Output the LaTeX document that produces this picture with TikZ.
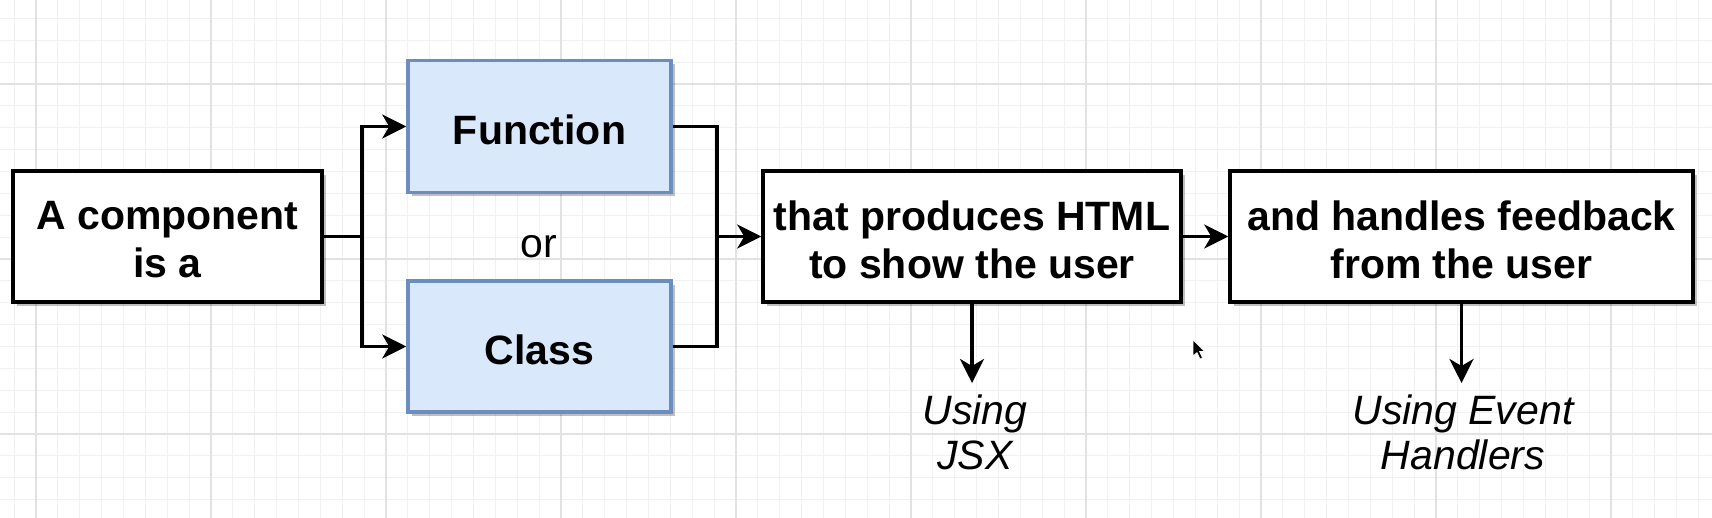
\documentclass[tikz,border=0pt]{standalone}
\usepackage{fontspec}
\setmainfont{Liberation Sans}
\usetikzlibrary{arrows.meta,shadows}
\definecolor{bluefill}{HTML}{DAE8FC}
\definecolor{blueline}{HTML}{6C8EBF}
\definecolor{gridminor}{HTML}{F1F1F1}
\definecolor{gridmajor}{HTML}{E2E2E2}
\tikzset{
  box/.style={draw=black, line width=3.5pt, fill=white, rectangle, inner sep=0pt,
    drop shadow={shadow xshift=4pt, shadow yshift=-4pt, fill=black, opacity=0.25}},
  bluebox/.style={box, draw=blueline, fill=bluefill},
  boxtext/.style={align=center, inner sep=0pt, font=\fontsize{41}{48}\selectfont\bfseries},
  conn/.style={draw=black, line width=3.5pt},
  arr/.style={conn, -{Stealth[length=24pt,width=24pt,inset=7pt]}},
  note/.style={align=center, inner sep=0pt, font=\fontsize{41}{45}\selectfont\itshape},
  gminor/.style={draw=gridminor, line width=1pt},
  gmajor/.style={draw=gridmajor, line width=1.2pt}
}
\begin{document}
\begin{tikzpicture}[x=1pt,y=-1pt]
\useasboundingbox (0,0) rectangle (1712,518);
\fill[white] (0,0) rectangle (1712,518);
% grid
\foreach \i in {0,...,78} \draw[gminor] ({14.1+\i*21.875},0) -- ++(0,518);
\foreach \j in {0,...,23} \draw[gminor] (0,{18.4+\j*21.875}) -- ++(1712,0);
\foreach \i in {0,...,9} \draw[gmajor] ({36+\i*175},0) -- ++(0,518);
\foreach \j in {0,...,2} \draw[gmajor] (0,{84+\j*175}) -- ++(1712,0);

% boxes
\node[box, minimum width=309pt, minimum height=131pt] (A) at (167.5,236.5) {};
\node[bluebox, minimum width=263pt, minimum height=132pt] (F) at (539.5,126.5) {};
\node[bluebox, minimum width=263pt, minimum height=131pt] (C) at (539.5,346.5) {};
\node[box, minimum width=418pt, minimum height=131pt] (H) at (972,236.5) {};
\node[box, minimum width=463pt, minimum height=131pt] (E) at (1461.5,236.5) {};
% box texts
\node[boxtext] (At) at ([yshift=-3.5pt]A.center) {A component\\is a};
\node[boxtext] (Ft) at ([yshift=-3.5pt]F.center) {Function};
\node[boxtext] (Ct) at ([yshift=-3.5pt]C.center) {Class};
\node[boxtext] (Ht) at ([yshift=-3.5pt]H.center) {that produces HTML\\to show the user};
\node[boxtext] (Et) at ([yshift=-3.5pt]E.center) {and handles feedback\\from the user};
\node[font=\fontsize{41}{48}\selectfont, inner sep=0pt] (or) at (539,246.5) {or};
\node[note, anchor=north] (U) at (975,395) {Using\\JSX};
\node[note, anchor=north] (V) at (1463,395) {Using Event\\Handlers};

% connectors
\coordinate (b1) at (362,236.5);
\coordinate (m) at (717,236.5);
\draw[conn] (A.east) -- (b1);
\draw[arr] (b1) |- (F.west);
\draw[arr] (b1) |- (C.west);
\draw[conn] (F.east) -| (m);
\draw[conn] (C.east) -| (m);
\draw[arr] (m) -- (H.west);
\draw[arr] (H.east) -- (E.west);
\draw[arr] (H.south) -- ([yshift=12pt]H.south |- U.north);
\draw[arr] (E.south) -- ([yshift=12pt]E.south |- V.north);

% mouse cursor
\filldraw[fill=black, draw=white, line width=0.6pt]
  (1193,340) -- (1193,356) -- (1197,352.5) -- (1200,359) -- (1202.5,358) -- (1199.5,351.5) -- (1204.5,351.5) -- cycle;
\end{tikzpicture}
\end{document}
